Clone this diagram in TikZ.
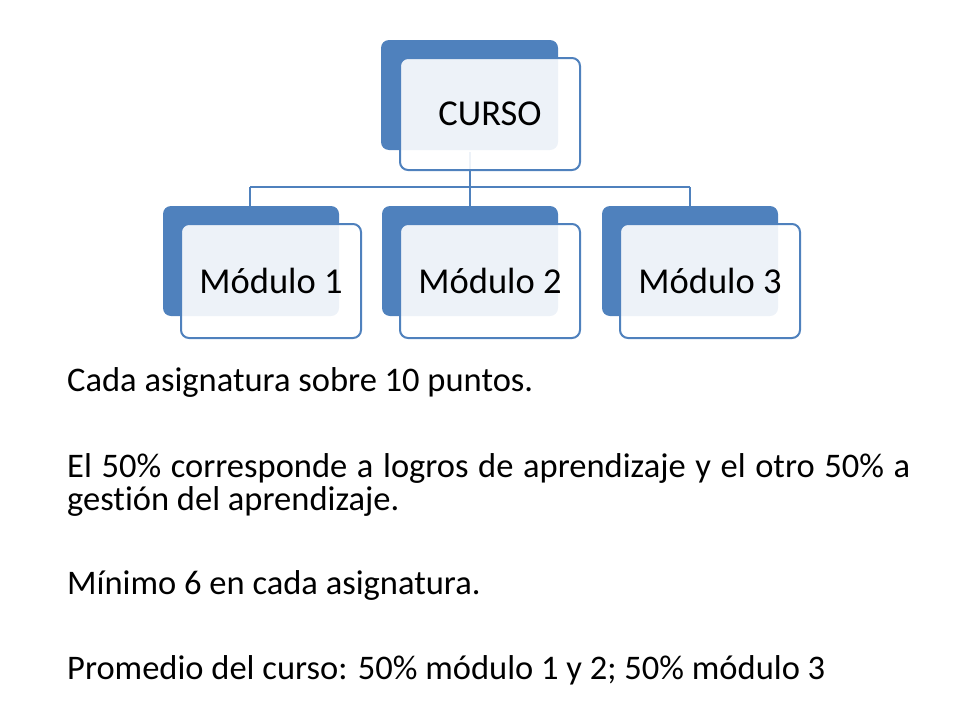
\documentclass[tikz,border=0pt]{standalone}
\usepackage{fontspec}
\setmainfont{Carlito}[Ligatures={NoCommon}]
\definecolor{bb}{HTML}{4F81BD}
\newcommand{\bodyfont}{\fontsize{34.5}{33}\selectfont\hyphenpenalty=10000\relax}
\begin{document}
\begin{tikzpicture}[x=1pt,y=-1pt,
  back/.style={fill=bb,rounded corners=8pt},
  front/.style={draw=bb,line width=2pt,fill=white,fill opacity=0.9,text opacity=1,rounded corners=8pt},
  conn/.style={draw=bb,line width=1.8pt}]
\useasboundingbox (0,0) rectangle (960,720);
% connectors
\coordinate (top) at (470,152);
\coordinate (bar) at (470,187);
\coordinate (bl) at (250,187);
\coordinate (br) at (690,187);
\draw[conn] (top) -- (bar);
\draw[conn] (bl) -- (br);
\draw[conn] (bl) -- (250,206);
\draw[conn] (bar) -- (470,206);
\draw[conn] (br) -- (690,206);
% CURSO
\fill[back] (381,40) rectangle (558,150);
\node[front,minimum width=180pt,minimum height=112pt,font=\fontsize{36.5}{40}\selectfont] (curso) at (490,114) {CURSO};
% modules
\foreach \i/\x in {1/163,2/382,3/602}{
  \fill[back] (\x,206) rectangle ++(176,110);
  \node[front,minimum width=180pt,minimum height=114pt,font=\fontsize{36.5}{40}\selectfont] (m\i) at (\x+108,281) {Módulo \i};
}
\node[anchor=north west,text width=843pt,align=justify,inner sep=0pt,font=\bodyfont] (txt) at (67,367)
{Cada asignatura sobre 10 puntos.\\[53pt]
El 50\% corresponde a logros de aprendizaje y el otro 50\% a gestión del aprendizaje.\\[51pt]
Mínimo 6 en cada asignatura.\\[52pt]
Promedio del curso: 50\% módulo 1 y 2; 50\% módulo 3};
\end{tikzpicture}
\end{document}
